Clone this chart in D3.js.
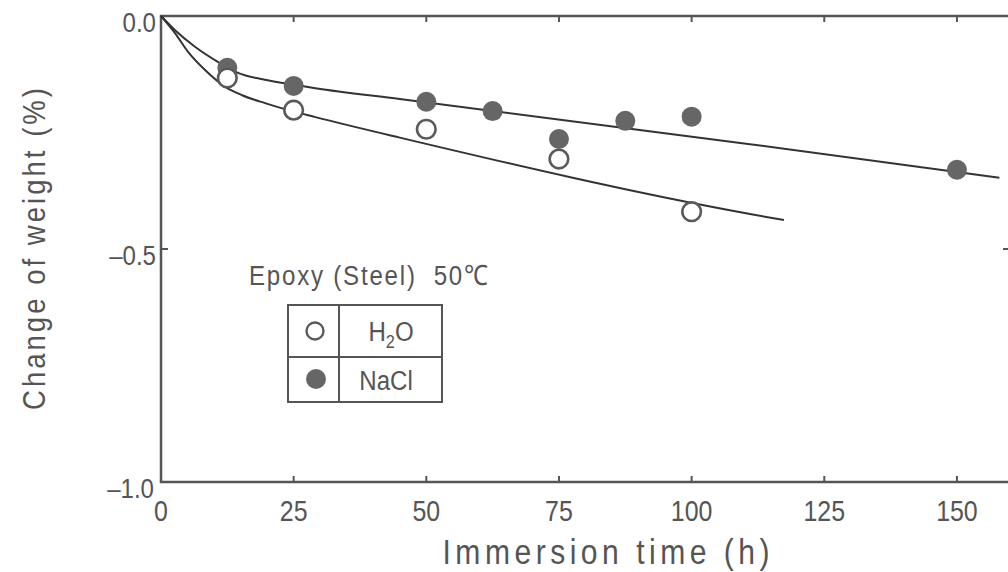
<!DOCTYPE html>
<html><head><meta charset="utf-8">
<script src="https://cdn.jsdelivr.net/npm/d3@7"></script>
<style>
html,body{margin:0;padding:0;background:#fff;}
svg{display:block;}
text{font-family:"Liberation Sans",Arial,sans-serif;fill:#555;}
</style></head>
<body>
<svg id="chart" width="1008" height="572"></svg>
<script>
// ---- data ----
const xTicks = [0, 25, 50, 75, 100, 125, 150];
const yTicks = [0.0, -0.5, -1.0];
const yTickLabels = ["0.0", "–0.5", "–1.0"];
const h2oTime = [12.5, 25, 50, 75, 100];
const h2oValue = [-0.133, -0.202, -0.243, -0.307, -0.420];
const naclTime = [12.5, 25, 50, 62.5, 75, 87.5, 100, 150];
const naclValue = [-0.111, -0.150, -0.184, -0.204, -0.264, -0.225, -0.216, -0.330];
// fitted curves as drawn in the figure
const h2oFitTime = [0, 2.6, 5.1, 8.3, 12.1, 15.3, 19.6, 24, 29.1, 45, 111, 117.4];
const h2oFitValue = [0, -0.036, -0.077, -0.116, -0.152, -0.170, -0.187, -0.202, -0.217, -0.261, -0.425, -0.438];
const naclFitTime = [0, 2.6, 6.4, 11.1, 14.5, 19.6, 25.3, 29.1, 45, 111, 158];
const naclFitValue = [0, -0.030, -0.066, -0.101, -0.122, -0.137, -0.148, -0.155, -0.178, -0.275, -0.347];
const legendLabels = ["H2O", "NaCl"];
const title = "Epoxy (Steel)  50℃";
const xTitle = "Immersion time (h)";
const yTitle = "Change of weight (%)";

// ---- drawing ----
const svg = d3.select("#chart");
const x = d3.scaleLinear().domain([0, 160]).range([161, 1010]);
const y = d3.scaleLinear().domain([-1, 0]).range([482, 16]);
const grey = "#555";

// helper: condensed text (horizontal scale) with optional forced length
function ctext(px, py, str, size, sx, anchor, width, rot) {
  const t = svg.append("text")
    .attr("transform", `translate(${px},${py})` + (rot ? ` rotate(${rot})` : "") + ` scale(${sx},1)`)
    .attr("font-size", size).attr("text-anchor", anchor || "start")
    .style("white-space", "pre").text(str);
  if (width) t.attr("textLength", width / sx).attr("lengthAdjust", "spacing");
  return t;
}

// frame
svg.append("rect").attr("x", x(0)).attr("y", y(0))
  .attr("width", x(160) - x(0)).attr("height", y(-1) - y(0))
  .attr("fill", "none").attr("stroke", grey).attr("stroke-width", 2.5);

// inward ticks
const g = svg.append("g").attr("stroke", grey).attr("stroke-width", 2);
xTicks.filter(d => d > 0).forEach(d => {
  g.append("line").attr("x1", x(d)).attr("x2", x(d)).attr("y1", y(-1)).attr("y2", y(-1) - 6);
  g.append("line").attr("x1", x(d)).attr("x2", x(d)).attr("y1", y(0)).attr("y2", y(0) + 6);
});
g.append("line").attr("x1", x(0)).attr("x2", x(0) + 7).attr("y1", y(-0.5)).attr("y2", y(-0.5));
g.append("line").attr("x1", x(160)).attr("x2", x(160) - 7).attr("y1", y(-0.5)).attr("y2", y(-0.5));

// tick labels
xTicks.forEach(d => ctext(x(d), 521, String(d), 29, 0.86, "middle"));
yTicks.forEach((d, i) => ctext(i === 2 ? 154 : 156, y(d) + 16, yTickLabels[i], 28, 0.86, "end"));

// axis titles
ctext(606, 564, xTitle, 35, 0.86, "middle", 327);
ctext(45, 249, yTitle, 32, 0.86, "middle", 322, -90);

// fitted curves
const line = d3.line().x(d => x(d[0])).y(d => y(d[1])).curve(d3.curveMonotoneX);
svg.append("path").datum(naclFitTime.map((t, i) => [t, naclFitValue[i]]))
  .attr("d", line).attr("fill", "none").attr("stroke", "#333").attr("stroke-width", 2);
svg.append("path").datum(h2oFitTime.map((t, i) => [t, h2oFitValue[i]]))
  .attr("d", line).attr("fill", "none").attr("stroke", "#333").attr("stroke-width", 2);

// markers
svg.selectAll(".nacl").data(naclTime).enter().append("circle")
  .attr("cx", d => x(d)).attr("cy", (d, i) => y(naclValue[i])).attr("r", 10)
  .attr("fill", "#666");
svg.selectAll(".h2o").data(h2oTime).enter().append("circle")
  .attr("cx", d => x(d)).attr("cy", (d, i) => y(h2oValue[i])).attr("r", 9.3)
  .attr("fill", "#fff").attr("stroke", "#5a5a5a").attr("stroke-width", 2.6);

// condition title
ctext(249, 285, title, 28, 0.86, "start", 239);

// legend table
const lg = svg.append("g").attr("stroke", grey).attr("stroke-width", 2).attr("fill", "none");
lg.append("rect").attr("x", 288).attr("y", 305).attr("width", 154).attr("height", 97);
lg.append("line").attr("x1", 339).attr("x2", 339).attr("y1", 305).attr("y2", 402);
lg.append("line").attr("x1", 288).attr("x2", 442).attr("y1", 357).attr("y2", 357);
svg.append("circle").attr("cx", 315).attr("cy", 331).attr("r", 8.5).attr("fill", "#fff")
  .attr("stroke", "#5a5a5a").attr("stroke-width", 2.4);
svg.append("circle").attr("cx", 316).attr("cy", 379).attr("r", 10).attr("fill", "#666");
const t1 = ctext(391, 341, "", 28, 0.86, "middle");
t1.append("tspan").text("H");
t1.append("tspan").attr("font-size", 19).attr("dy", 7).text("2");
t1.append("tspan").attr("dy", -7).text("O");
ctext(386, 390, legendLabels[1], 28, 0.86, "middle");
</script>
</body></html>
